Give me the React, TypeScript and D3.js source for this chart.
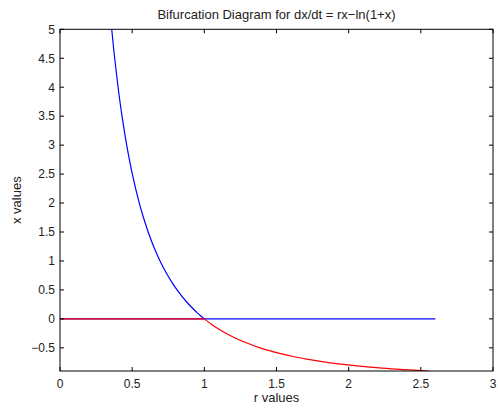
import React from "react";
import * as d3 from "d3";

const blueX = [5, 4.5, 4, 3.5, 3, 2.5, 2, 1.75, 1.5, 1.25, 1, 0.8, 0.6, 0.4, 0.3, 0.2, 0.1, 0.05, 0];
const blueR = [0.3584, 0.3788, 0.4024, 0.4297, 0.4621, 0.5011, 0.5493, 0.5781, 0.6109, 0.6487, 0.6931, 0.7347, 0.7833, 0.8412, 0.8745, 0.9116, 0.9531, 0.9758, 1];
const redX = [0, -0.1, -0.2, -0.3, -0.4, -0.5, -0.6, -0.65, -0.7, -0.75, -0.8, -0.85, -0.875, -0.9];
const redR = [1, 1.0536, 1.1157, 1.1889, 1.2771, 1.3863, 1.5272, 1.6151, 1.72, 1.8484, 2.0118, 2.2319, 2.3765, 2.5584];
const blueFlatR = [0, 2.6];
const redFlatR = [0, 1];
const xTicks = [0, 0.5, 1, 1.5, 2, 2.5, 3];
const yTicks = [-0.5, 0, 0.5, 1, 1.5, 2, 2.5, 3, 3.5, 4, 4.5, 5];

const W = 498, H = 414;
const L = 60, R = 493, T = 29.3, B = 371;

export default function App() {
  const x = d3.scaleLinear().domain([0, 3]).range([L, R]);
  const y = d3.scaleLinear().domain([-0.9, 5]).range([B, T]);
  const line = d3.line<[number, number]>().x(d => x(d[0])).y(d => y(d[1])).curve(d3.curveCatmullRom);
  const fmt = (v: number) => (v < 0 ? "\u2212" + String(-v) : String(v));
  const font = "Liberation Sans, Arial, Helvetica, sans-serif";
  const blue = blueR.map((r, i) => [r, blueX[i]] as [number, number]);
  const red = redR.map((r, i) => [r, redX[i]] as [number, number]);
  const tl = 4;
  return (
    <svg width={W} height={H} style={{ position: "absolute", left: 0, top: 0, background: "#fff" }} fontFamily={font} fill="#222">
      <rect x={0} y={0} width={W} height={H} fill="#fff" />
      <defs>
        <clipPath id="pa"><rect x={L} y={T} width={R - L} height={B - T} /></clipPath>
      </defs>
      <g clipPath="url(#pa)" fill="none" strokeWidth={1.2}>
        <path d={line(blueFlatR.map(r => [r, 0] as [number, number])) || ""} stroke="#0000ff" />
        <path d={line(blue) || ""} stroke="#0000ff" />
        <path d={line(redFlatR.map(r => [r, 0] as [number, number])) || ""} stroke="#ff0000" />
        <path d={line(red) || ""} stroke="#ff0000" />
      </g>
      <rect x={L} y={T} width={R - L} height={B - T} fill="none" stroke="#000" strokeWidth={1} />
      {xTicks.map(t => (
        <g key={"x" + t}>
          <line x1={x(t)} x2={x(t)} y1={B} y2={B - tl} stroke="#000" />
          <line x1={x(t)} x2={x(t)} y1={T} y2={T + tl} stroke="#000" />
          <text x={x(t)} y={388} fontSize={12} textAnchor="middle">{fmt(t)}</text>
        </g>
      ))}
      {yTicks.map(t => (
        <g key={"y" + t}>
          <line x1={L} x2={L + tl} y1={y(t)} y2={y(t)} stroke="#000" />
          <line x1={R} x2={R - tl} y1={y(t)} y2={y(t)} stroke="#000" />
          <text x={55} y={y(t) + 4.3} fontSize={12} textAnchor="end">{fmt(t)}</text>
        </g>
      ))}
      <text x={(L + R) / 2} y={19} fontSize={13} textAnchor="middle">Bifurcation Diagram for dx/dt = rx{"\u2212"}ln(1+x)</text>
      <text x={(L + R) / 2} y={402} fontSize={13} textAnchor="middle">r values</text>
      <text transform={`translate(21,${(T + B) / 2}) rotate(-90)`} fontSize={13} textAnchor="middle">x values</text>
    </svg>
  );
}
